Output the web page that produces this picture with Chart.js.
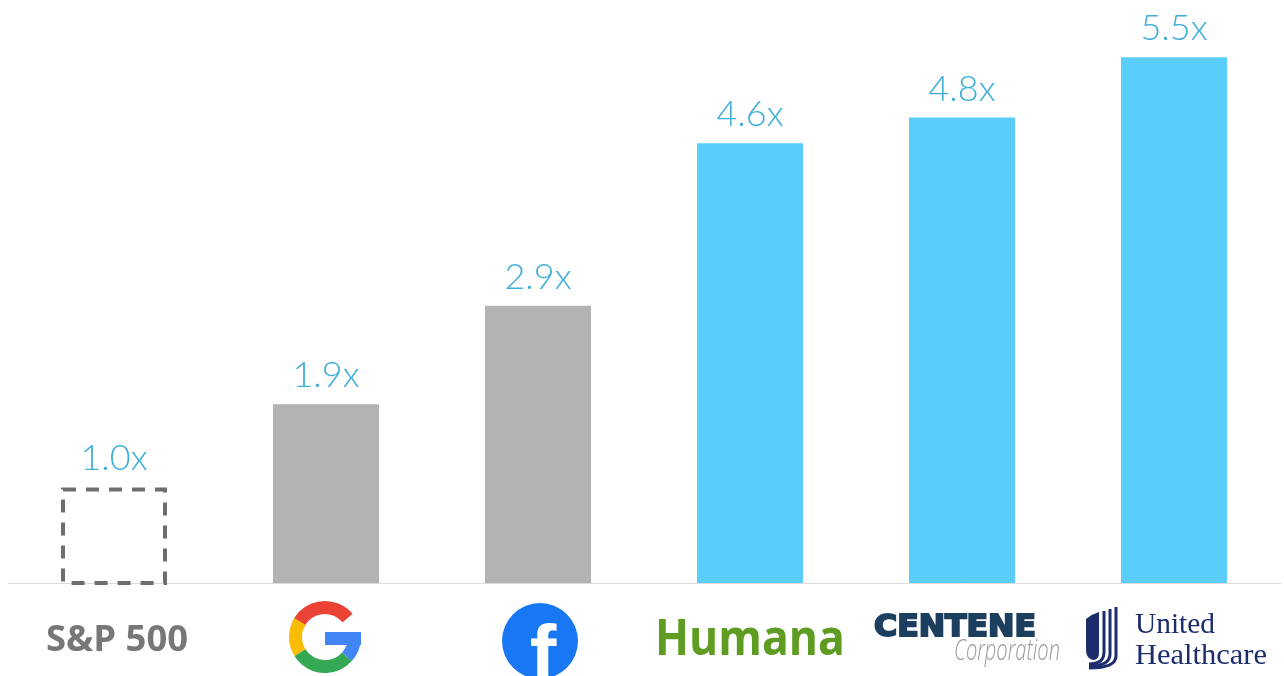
<!DOCTYPE html>
<html>
<head>
<meta charset="utf-8">
<script src="https://cdn.jsdelivr.net/npm/chart.js@4.4.1/dist/chart.umd.min.js"></script>
<style>
	body { margin: 0; background: #ffffff; }
	#wrap { width: 1284px; height: 676px; }
</style>
</head>
<body>
<div id="wrap"><canvas id="multChart" width="1284" height="676"></canvas></div>
<script>
// Data
var companies = ['S&P 500', 'Google', 'Facebook', 'Humana', 'Centene', 'UnitedHealthcare'];
var multiples = [1.0, 1.87, 2.9, 4.6, 4.87, 5.5];
var multLabels = ['1.0x', '1.9x', '2.9x', '4.6x', '4.8x', '5.5x'];
var barColors = ['rgba(0,0,0,0)', '#b3b3b3', '#b3b3b3', '#5bcdfb', '#5bcdfb', '#5bcdfb'];

//Stretch a text to a given width (logos have fixed widths)
function fitText(ctx, text, left, base, w, bold)
{
	var m = ctx.measureText(text).width;
	ctx.save();
	ctx.translate(left, base);
	ctx.scale(w / m, 1);
	ctx.textAlign = 'left';
	ctx.textBaseline = 'alphabetic';
	ctx.fillText(text, 0, 0);
	if (bold)
	{
		ctx.lineWidth = bold;
		ctx.strokeStyle = ctx.fillStyle;
		ctx.strokeText(text, 0, 0);
	}
	ctx.restore();
}

//Dashed outline for the S&P bar + value labels
var barDecor = {
	id: 'barDecor',
	afterDatasetsDraw: function(chart)
	{
		var ctx = chart.ctx;
		var meta = chart.getDatasetMeta(0);
		var b = meta.data[0];
		ctx.save();
		ctx.strokeStyle = '#6e6e6e';
		ctx.lineWidth = 4;
		ctx.setLineDash([13, 10]);
		ctx.strokeRect(b.x - b.width / 2 + 2, b.y + 2, b.width - 4, b.base - b.y - 2);
		ctx.setLineDash([]);

		ctx.fillStyle = '#3daed9';
		ctx.font = '300 36px Lato';
		ctx.textAlign = 'center';
		ctx.textBaseline = 'alphabetic';
		for (var i = 0; i < meta.data.length; i++)
		{
			var el = meta.data[i];
			ctx.fillText(multLabels[i], el.x, el.y - 17);
		}
		ctx.restore();
	}
};

//Logos under the axis
var logos = {
	id: 'logos',
	afterDraw: function(chart)
	{
		var ctx = chart.ctx;
		var xs = chart.scales.x;
		var c, cy;
		ctx.save();

		// S&P 500
		c = xs.getPixelForValue(0);
		ctx.fillStyle = '#777777';
		ctx.font = 'bold 36px "Open Sans"';
		fitText(ctx, 'S&P 500', c - 68, 651, 142);

		// Google G
		c = xs.getPixelForValue(1) - 1;
		cy = 637;
		var R = 36, th = 13, mid = R - th / 2;
		ctx.lineWidth = th;
		ctx.lineCap = 'butt';
		var segs = [
			['#ea4335', -158, -40],
			['#fbbc05', 148, 212],
			['#34a853', 42, 148],
			['#4285f4', 0, 42]
		];
		segs.forEach(function(s)
		{
			ctx.strokeStyle = s[0];
			ctx.beginPath();
			ctx.arc(c, cy, mid, s[1] * Math.PI / 180, s[2] * Math.PI / 180);
			ctx.stroke();
		});
		ctx.fillStyle = '#4285f4';
		ctx.fillRect(c, cy - 5, R, 13);

		// Facebook
		c = xs.getPixelForValue(2) + 2;
		cy = 641;
		ctx.save();
		ctx.fillStyle = '#1877f2';
		ctx.beginPath();
		ctx.arc(c, cy, 38, 0, Math.PI * 2);
		ctx.fill();
		ctx.clip();
		ctx.fillStyle = '#ffffff';
		ctx.font = 'bold 80px "Liberation Sans"';
		ctx.textAlign = 'center';
		ctx.fillText('f', c + 3, cy + 40);
		ctx.restore();

		// Humana
		c = xs.getPixelForValue(3);
		ctx.fillStyle = '#5e9c22';
		ctx.font = 'bold 50px "Open Sans"';
		fitText(ctx, 'Humana', c - 95, 655, 190);

		// Centene
		c = xs.getPixelForValue(4);
		ctx.fillStyle = '#1d3f5f';
		ctx.font = 'bold 30px "DejaVu Sans"';
		fitText(ctx, 'CENTENE', c - 88, 636, 162, 2);
		ctx.fillStyle = '#9a9a9a';
		ctx.font = 'italic 300 30px "Open Sans"';
		fitText(ctx, 'Corporation', c - 8, 660, 106);

		// UnitedHealthcare
		c = xs.getPixelForValue(5);
		var x0 = c - 88;
		ctx.fillStyle = '#1c2c6c';
		ctx.beginPath();
		ctx.moveTo(x0, 619);
		ctx.quadraticCurveTo(x0 + 6, 614, x0 + 13, 612);
		ctx.lineTo(x0 + 13, 653);
		ctx.quadraticCurveTo(x0 + 13, 660, x0 + 7, 660);
		ctx.quadraticCurveTo(x0, 658, x0, 650);
		ctx.closePath();
		ctx.fill();
		ctx.strokeStyle = '#1c2c6c';
		ctx.lineWidth = 3;
		for (var k = 0; k < 3; k++)
		{
			var lx = x0 + 18 + k * 6;
			ctx.beginPath();
			ctx.moveTo(lx, 611 - k * 2);
			ctx.lineTo(lx, 652 + k * 2);
			ctx.quadraticCurveTo(lx, 664 + k * 2, x0 + 3, 664 + k * 2);
			ctx.stroke();
		}
		ctx.font = '30px "Liberation Serif"';
		fitText(ctx, 'United', c - 39, 633, 80);
		fitText(ctx, 'Healthcare', c - 39, 664, 132);

		ctx.restore();
	}
};

//Set up
var ctx = document.getElementById('multChart').getContext('2d');

var multChart = new Chart(ctx, {
	type: 'bar',
	data: {
		labels: companies,
		datasets: [{
			data: multiples,
			backgroundColor: barColors,
			borderWidth: 0,
			barPercentage: 1.0,
			categoryPercentage: 0.5
		}]
	},
	options: {
		responsive: false,
		animation: false,
		layout: { padding: { left: 8, right: 4, top: 0, bottom: 93 } },
		plugins: {
			legend: { display: false },
			tooltip: { enabled: false }
		},
		scales: {
			x: {
				grid: { display: false, drawTicks: false },
				border: { display: true, color: '#dcdcdc', width: 1 },
				ticks: { display: false }
			},
			y: {
				display: false,
				min: 0,
				max: 6.1
			}
		}
	},
	plugins: [barDecor, logos]
});
</script>
</body>
</html>
